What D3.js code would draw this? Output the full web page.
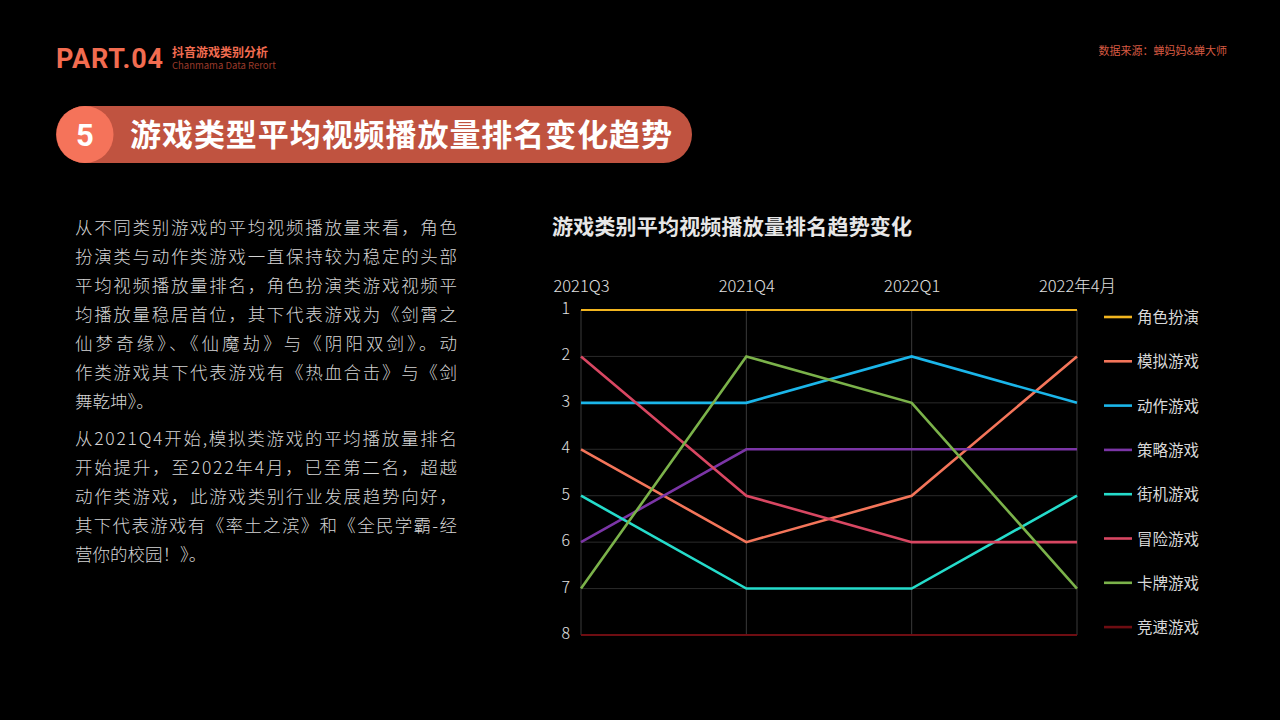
<!DOCTYPE html>
<html>
<head>
<meta charset="utf-8">
<script src="https://cdn.jsdelivr.net/npm/d3@7"></script>
<style>
  html, body { margin: 0; padding: 0; background: #000; }
  svg { display: block; font-family: "Noto Sans CJK SC", "Noto Sans", sans-serif; }
</style>
</head>
<body>
<script>
// periods on the x axis
var periods = ["2021Q3", "2021Q4", "2022Q1", "2022年4月"];
var ranks = [1, 2, 3, 4, 5, 6, 7, 8];

// game categories and their rank per period
var categories = ["角色扮演", "模拟游戏", "动作游戏", "策略游戏", "街机游戏", "冒险游戏", "卡牌游戏", "竞速游戏"];
var rankRolePlay = [1, 1, 1, 1];
var rankSimulation = [4, 6, 5, 2];
var rankAction = [3, 3, 2, 3];
var rankStrategy = [6, 4, 4, 4];
var rankArcade = [5, 7, 7, 5];
var rankAdventure = [2, 5, 6, 6];
var rankCard = [7, 2, 3, 7];
var rankRacing = [8, 8, 8, 8];
var seriesValues = [rankRolePlay, rankSimulation, rankAction, rankStrategy, rankArcade, rankAdventure, rankCard, rankRacing];
var colors = ["#f2b51f", "#f4755a", "#1bb6ea", "#7b35a6", "#25dccb", "#d84762", "#7bb24a", "#6e0d12"];

var paragraph1 = [
	"从不同类别游戏的平均视频播放量来看，角色",
	"扮演类与动作类游戏一直保持较为稳定的头部",
	"平均视频播放量排名，角色扮演类游戏视频平",
	"均播放量稳居首位，其下代表游戏为《剑霄之",
	"仙梦奇缘》、《仙魔劫》与《阴阳双剑》。动",
	"作类游戏其下代表游戏有《热血合击》与《剑",
	"舞乾坤》。"
];
var paragraph2 = [
	"从2021Q4开始,模拟类游戏的平均播放量排名",
	"开始提升，至2022年4月，已至第二名，超越",
	"动作类游戏，此游戏类别行业发展趋势向好，",
	"其下代表游戏有《率土之滨》和《全民学霸-经",
	"营你的校园！》。"
];

var svg = d3.select("body").append("svg")
	.attr("width", 1280).attr("height", 720);
svg.append("rect").attr("width", 1280).attr("height", 720).attr("fill", "#000");

// header
svg.append("text")
	.attr("x", 56).attr("y", 68)
	.attr("fill", "#f26c50")
	.attr("textLength", 107)
	.style("font-family", "Roboto, 'Noto Sans', sans-serif")
	.style("font-weight", 700).style("font-size", "27px")
	.text("PART.04");
svg.append("text")
	.attr("x", 172).attr("y", 57)
	.attr("fill", "#f26c50")
	.style("font-weight", 700).style("font-size", "12px")
	.text("抖音游戏类别分析");
svg.append("text")
	.attr("x", 172).attr("y", 69)
	.attr("fill", "#9a3a2a")
	.style("font-size", "9.5px")
	.text("Chanmama Data Rerort");
svg.append("text")
	.attr("x", 1227).attr("y", 55)
	.attr("text-anchor", "end")
	.attr("fill", "#d65a42")
	.style("font-size", "11px")
	.text("数据来源：蝉妈妈&蝉大师");

// section banner
svg.append("rect")
	.attr("x", 56).attr("y", 106).attr("width", 636).attr("height", 57)
	.attr("rx", 28.5)
	.attr("fill", "#c05340");
svg.append("circle")
	.attr("cx", 85).attr("cy", 134.5).attr("r", 28.5)
	.attr("fill", "#f5735a");
svg.append("text")
	.attr("x", 85).attr("y", 146)
	.attr("text-anchor", "middle")
	.attr("fill", "#fff")
	.style("font-family", "Roboto, 'Noto Sans', sans-serif")
	.style("font-weight", 700).style("font-size", "31px")
	.text("5");
svg.append("text")
	.attr("x", 130).attr("y", 146)
	.attr("fill", "#fff")
	.attr("textLength", 542)
	.style("font-weight", 700).style("font-size", "31px")
	.text("游戏类型平均视频播放量排名变化趋势");

// body text
function drawParagraph(lines, y0) {
	svg.append("g").selectAll("text")
		.data(lines)
		.enter().append("text")
		.attr("x", 75)
		.attr("y", function(d, i) { return y0 + i * 29; })
		.attr("fill", "#d4d4d4")
		.attr("textLength", function(d) { return d.length > 12 ? 382 : null; })
		.style("font-size", "17.5px")
		.style("font-weight", 300)
		.text(function(d) { return d; });
}
drawParagraph(paragraph1, 234);
drawParagraph(paragraph2, 445);

// chart title
svg.append("text")
	.attr("x", 552).attr("y", 234)
	.attr("fill", "#e6e6e6")
	.attr("textLength", 360)
	.style("font-weight", 700).style("font-size", "21px")
	.text("游戏类别平均视频播放量排名趋势变化");

// scales
var x = d3.scalePoint().domain(periods).range([581, 1077]);
var y = d3.scaleLinear().domain([1, 8]).range([310, 635]);

var chart = svg.append("g");

// grid
chart.append("g").selectAll("line")
	.data(ranks)
	.enter().append("line")
	.attr("x1", x(periods[0])).attr("x2", x(periods[periods.length - 1]))
	.attr("y1", function(d) { return y(d); }).attr("y2", function(d) { return y(d); })
	.attr("stroke", "#2a2a2a").attr("stroke-width", 1);
chart.append("g").selectAll("line")
	.data(periods)
	.enter().append("line")
	.attr("x1", function(d) { return x(d); }).attr("x2", function(d) { return x(d); })
	.attr("y1", y(1)).attr("y2", y(8))
	.attr("stroke", "#3a3a3a").attr("stroke-width", 1);

// axes labels
var xAxis = d3.axisTop(x).tickSize(0).tickPadding(0);
var gx = chart.append("g").attr("transform", "translate(0,292)").call(xAxis);
gx.select(".domain").remove();
gx.selectAll("text")
	.attr("fill", "#e0e0e0")
	.style("font-family", "'Noto Sans CJK SC', sans-serif")
	.style("font-weight", 300).style("font-size", "16.5px");

var yAxis = d3.axisLeft(y).tickValues(ranks).tickFormat(d3.format("d")).tickSize(0).tickPadding(0);
var gy = chart.append("g").attr("transform", "translate(570,0)").call(yAxis);
gy.select(".domain").remove();
gy.selectAll("text")
	.attr("fill", "#e0e0e0")
	.attr("dy", "0.22em")
	.style("font-family", "'Noto Sans CJK SC', sans-serif")
	.style("font-weight", 300).style("font-size", "16px");

// lines
var line = d3.line()
	.x(function(d, i) { return x(periods[i]); })
	.y(function(d) { return y(d); });

chart.append("g").selectAll("path")
	.data(seriesValues)
	.enter().append("path")
	.attr("d", line)
	.attr("fill", "none")
	.attr("stroke", function(d, i) { return colors[i]; })
	.attr("stroke-width", function(d, i) { return (i === 0 || i === 7) ? 1.8 : 2.6; })
	.attr("stroke-linejoin", "miter");

// legend
var legend = svg.append("g").selectAll("g")
	.data(categories)
	.enter().append("g")
	.attr("transform", function(d, i) { return "translate(1104," + (317 + i * 44.3) + ")"; });
legend.append("line")
	.attr("x1", 0).attr("x2", 28)
	.attr("stroke", function(d, i) { return colors[i]; })
	.attr("stroke-width", 2.6);
legend.append("text")
	.attr("x", 33).attr("y", 6)
	.attr("fill", "#d8d8d8")
	.style("font-size", "15.5px")
	.text(function(d) { return d; });
</script>
</body>
</html>
